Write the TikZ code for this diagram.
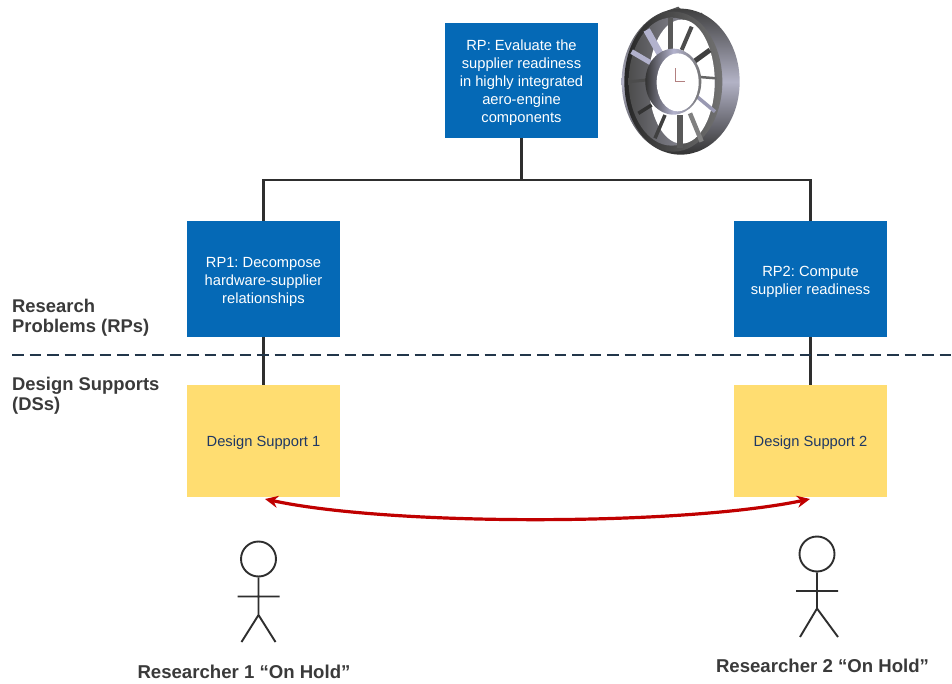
\documentclass[tikz,border=0pt]{standalone}
\usepackage{fontspec}
\setmainfont{Liberation Sans}
\usetikzlibrary{arrows.meta,calc}
\frenchspacing
\newcommand{\firstline}{\rule{0pt}{15.5pt}}
\definecolor{boxblue}{HTML}{0569B6}
\definecolor{boxyellow}{HTML}{FFDD71}
\definecolor{navy}{HTML}{1F3864}
\definecolor{dashc}{HTML}{22364A}
\definecolor{txtgray}{HTML}{3A3A3A}
\definecolor{arrowred}{HTML}{C00000}
\definecolor{linec}{HTML}{2E2E2E}
\tikzset{
  rpbox/.style={fill=boxblue,text=white,minimum width=153pt,inner sep=0pt,align=center,
    font=\fontsize{14.7}{18}\selectfont},
  dsbox/.style={fill=boxyellow,text=navy,minimum width=153pt,minimum height=112pt,inner sep=0pt,align=center,
    font=\fontsize{14.7}{18}\selectfont,execute at begin node={\rule{0pt}{15pt}}},
  tree/.style={draw=linec,line width=2.1pt},
  sidelabel/.style={text=txtgray,anchor=west,align=left,inner sep=0pt,
    font=\fontsize{18.4}{20}\selectfont\bfseries},
  personlabel/.style={text=txtgray,inner sep=0pt,font=\fontsize{18.6}{20}\selectfont\bfseries},
  stick/.style={draw=linec,line width=1.9pt},
  headc/.style={circle,draw=linec,line width=1.9pt,minimum size=35pt,inner sep=0pt},
}
\begin{document}
\begin{tikzpicture}[x=1pt,y=-1pt]
\useasboundingbox (0,0) rectangle (952,684);
\fill[white] (0,0) rectangle (952,684);

% wheel
\begin{scope}[shift={(610,0)},x=0.3333pt,y=-0.3333pt]
  % tabs on the rim
  \fill[black!65] (172,32) -- (205,20) -- (228,42) -- (172,50) -- cycle;
  \fill[black!65] (248,52) -- (275,38) -- (298,70) -- (255,62) -- cycle;
  % body and bright rim band
  \shade[top color=black!75,bottom color=black!80,middle color=blue!25!black!30]
     (212,245) ellipse [x radius=59pt,y radius=73pt];
  \shade[left color=black!85,right color=black!55] (190,245) ellipse [x radius=49pt,y radius=70pt];
  % opening
  \shade[left color=black!70,right color=blue!20!black!35] (185,245) ellipse [x radius=43pt,y radius=64pt];
  \fill[white] (215,245) ellipse [x radius=33pt,y radius=62pt];
  % spokes
  \foreach \a/\b/\c/\d/\w/\col in {
    180/55/180/150/5pt/black!65,
    110/90/155/170/7pt/blue!35!black!30,
    65/155/125/190/5pt/blue!35!black!30,
    60/245/110/240/3pt/black!70,
    85/340/125/315/3.5pt/black!80,
    135/415/165/345/3.5pt/black!75,
    210/445/210/345/5.5pt/black!65,
    275/425/240/340/4.5pt/black!50,
    315/335/255/285/3.5pt/blue!25!black!40,
    320/235/255/230/2.5pt/black!60,
    300/150/245/190/5pt/black!75,
    245/80/215/150/4pt/black!70}
    {\draw[line width=\w,draw=\col] (\a,\b) -- (\c,\d);}
  % hub
  \shade[left color=black!80,right color=black!55,middle color=blue!35!black!30] (190,245) ellipse [x radius=28pt,y radius=33pt];
  \fill[white] (203,247) ellipse [x radius=21pt,y radius=29pt];
  \draw[draw=red!40!black!50,line width=0.4pt] (195,205) -- (195,245) -- (225,245);
\end{scope}

% boxes
\node[rpbox,minimum height=115pt] (rp) at (521.5,80.5) {\firstline RP: Evaluate the\\supplier readiness\\in highly integrated\\aero-engine\\components};
\node[rpbox,minimum height=116pt] (rp1) at (263.5,279) {\firstline RP1: Decompose\\hardware-supplier\\relationships};
\node[rpbox,minimum height=116pt] (rp2) at (810.5,279) {\firstline RP2: Compute\\supplier readiness};
\node[dsbox] (ds1) at (263.5,441) {Design Support 1};
\node[dsbox] (ds2) at (810.5,441) {Design Support 2};

% tree
\coordinate (bus) at (521.5,180);
\draw[tree] (rp.south) -- (bus);
\draw[tree] (rp1.north) |- (bus) -| (rp2.north);
\draw[tree] (rp1.south) -- (ds1.north);
\draw[tree] (rp2.south) -- (ds2.north);

% divider
\coordinate (divl) at (12,355);
\coordinate (divr) at (952,355);
\draw[dashc,line width=1.9pt,dash pattern=on 11.5pt off 6pt] (divl) -- (divr);

% labels
\node[sidelabel] (lblrp) at (12,317.5) {Research\\Problems (RPs)};
\node[sidelabel] (lblds) at (12,395.5) {Design Supports\\(DSs)};

% red arrow
\coordinate (al) at (265,499);
\coordinate (ar) at (810,499);
\draw[arrowred,line width=3.2pt,{Stealth[length=13pt,width=12pt]}-{Stealth[length=13pt,width=12pt]}]
  (al) .. controls (390,526) and (680,526) .. (ar);

% person 1
\node[headc] (h1) at (258.5,559) {};
\coordinate (hip1) at (258.5,615);
\coordinate (al1) at (237.5,596.5);
\coordinate (ar1) at (279.5,596.5);
\coordinate (ll1) at (241.5,642);
\coordinate (lr1) at (275.5,642);
\draw[stick] (h1.south) -- (hip1) (al1) -- (ar1) (ll1) -- (hip1) -- (lr1);
\node[personlabel] (p1) at (244,672) {Researcher 1 “On Hold”};

% person 2
\node[headc] (h2) at (817,554) {};
\coordinate (hip2) at (817,608.5);
\coordinate (al2) at (796,591);
\coordinate (ar2) at (838,591);
\coordinate (ll2) at (800,637);
\coordinate (lr2) at (838,637);
\draw[stick] (h2.south) -- (hip2) (al2) -- (ar2) (ll2) -- (hip2) -- (lr2);
\node[personlabel] (p2) at (822.5,666) {Researcher 2 “On Hold”};
\end{tikzpicture}
\end{document}
